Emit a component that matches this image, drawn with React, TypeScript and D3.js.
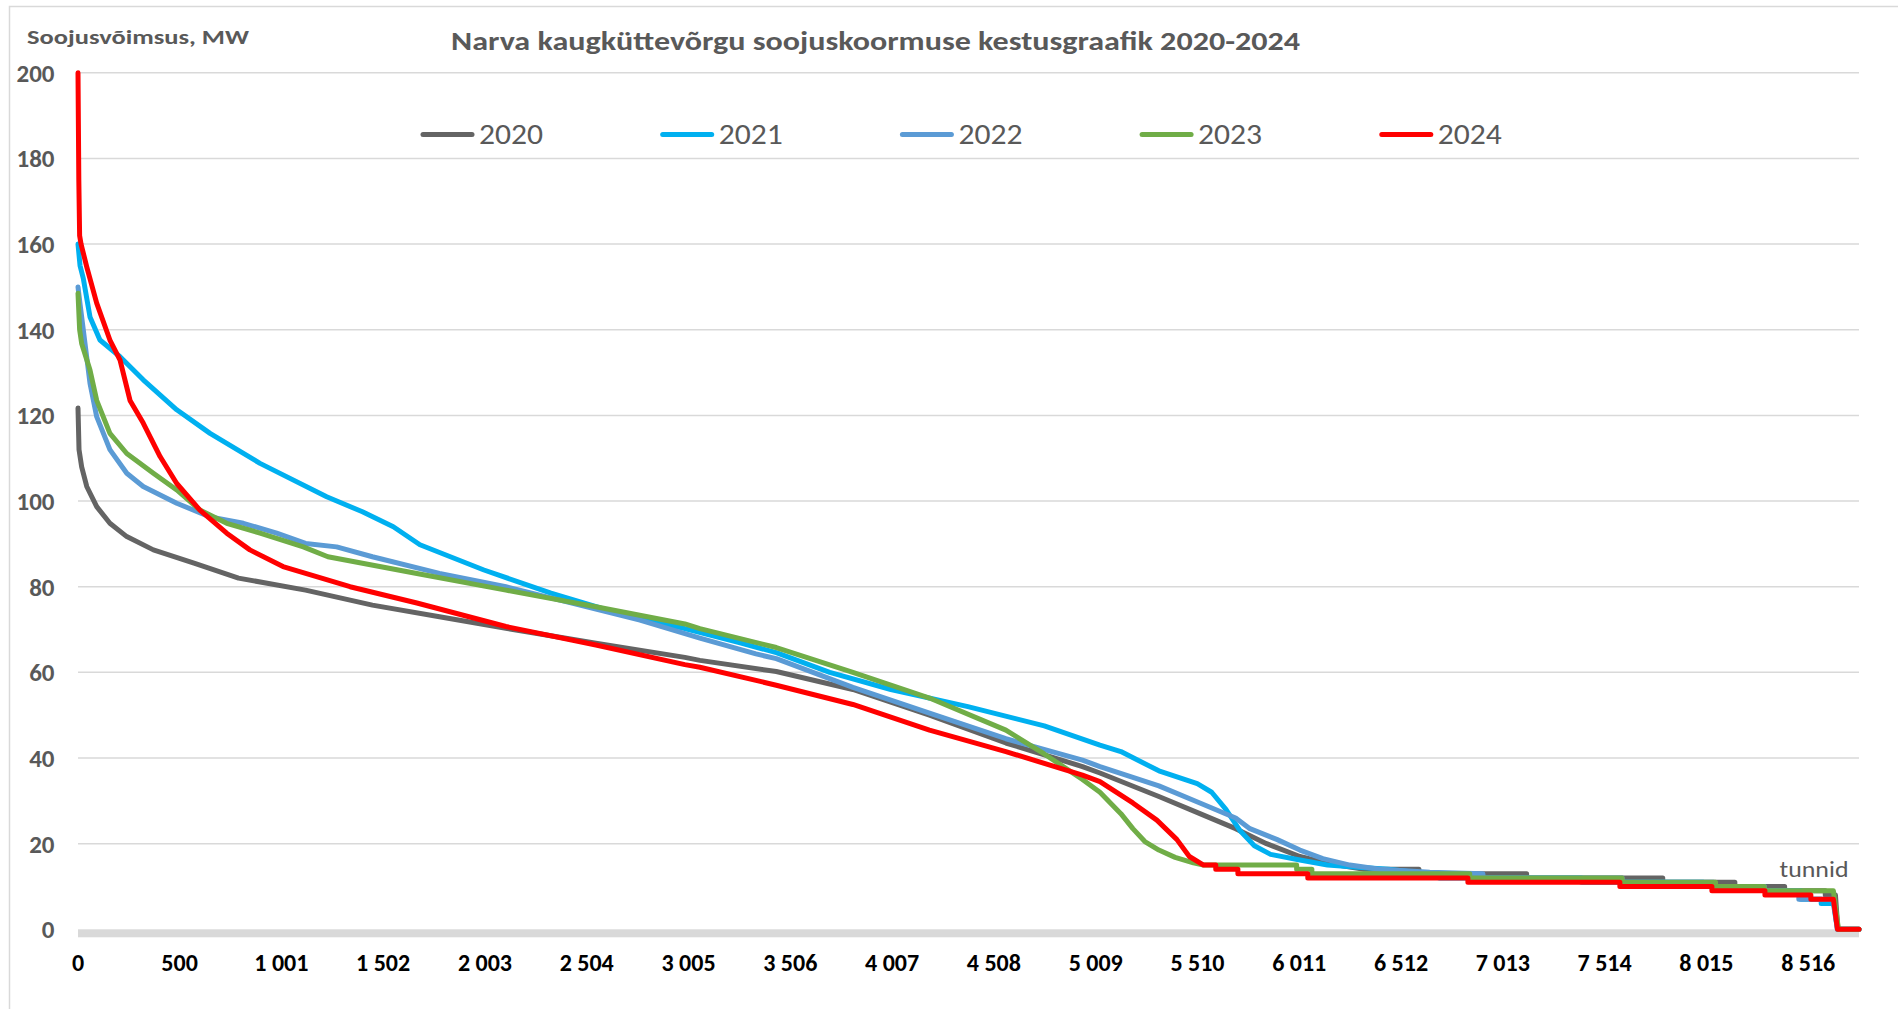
import React from 'react';
import * as d3 from 'd3';

const WIDTH = 1898;
const HEIGHT = 1009;

const years = ['2020', '2021', '2022', '2023', '2024'];
const colors = ['#646464', '#00b0f0', '#5b9bd5', '#70ad47', '#ff0000'];

const yTicks = [0, 20, 40, 60, 80, 100, 120, 140, 160, 180, 200];
const xTickValues = [0, 500, 1001, 1502, 2003, 2504, 3005, 3506, 4007, 4508, 5009, 5510, 6011, 6512, 7013, 7514, 8015, 8516];
const xTickLabels = ['0', '500', '1 001', '1 502', '2 003', '2 504', '3 005', '3 506', '4 007', '4 508', '5 009', '5 510', '6 011', '6 512', '7 013', '7 514', '8 015', '8 516'];
const HOURS_MAX = 8766;

// [hour, MW]
const load2020: [number, number][] = [
  [0, 121.7], [5, 112], [18, 108], [43, 103.4], [92, 98.7], [157, 94.8], [240, 91.7], [371, 88.6],
  [571, 85.5], [790, 82], [1120, 79.2], [1449, 75.7], [1779, 73], [2106, 70.3], [2549, 66.8],
  [2987, 63.5], [3061, 62.8], [3437, 60.2], [3814, 56], [4191, 50], [4567, 43.5], [4944, 38],
  [5030, 36.5], [5320, 31], [5522, 27], [5698, 23.5], [5850, 20], [6014, 17], [6100, 16], [6200, 15],
  [6330, 14], [6600, 14], [6600, 13], [7130, 13], [7130, 12], [7800, 12], [7800, 11], [8155, 11],
  [8155, 10], [8400, 10], [8400, 9], [8600, 9], [8600, 8], [8650, 8], [8662, 0], [8766, 0],
];

const load2021: [number, number][] = [
  [0, 160], [10, 155], [26, 152], [59, 143], [108, 137.6], [207, 133.7], [321, 128.3], [486, 121.3],
  [650, 115.8], [896, 108.8], [1224, 101], [1400, 97.5], [1552, 94], [1683, 89.8], [1998, 83.9],
  [2328, 78.5], [2657, 73.8], [2987, 70.2], [3250, 67], [3437, 64.6], [3700, 60], [4001, 56],
  [4380, 52], [4756, 47.5], [5030, 43], [5133, 41.5], [5320, 37], [5509, 34], [5580, 32],
  [5650, 28], [5720, 23], [5790, 19.5], [5870, 17.5], [6014, 16.2], [6150, 15], [6300, 14.5],
  [6450, 14], [6600, 13.2], [6700, 13], [6700, 12], [7400, 12], [7400, 11], [8000, 11], [8000, 10],
  [8300, 10], [8300, 9], [8480, 9], [8480, 7], [8580, 7], [8580, 6], [8640, 6], [8660, 0], [8766, 0],
];

const load2022: [number, number][] = [
  [0, 150], [10, 146], [26, 140], [59, 127.5], [92, 119.7], [157, 112], [240, 106.5], [321, 103.4],
  [486, 99.5], [650, 96.3], [814, 94.8], [978, 92.5], [1120, 90.1], [1273, 89.3], [1449, 87],
  [1779, 83.1], [2106, 80], [2436, 76.1], [2766, 72.2], [3061, 68], [3337, 64.3], [3437, 63.2],
  [3814, 56.5], [4191, 50.5], [4567, 44.5], [4944, 39.5], [5030, 38], [5320, 33.5], [5522, 29.5],
  [5698, 26], [5768, 23.5], [5900, 21], [6014, 18.5], [6127, 16.5], [6260, 15], [6407, 14],
  [6653, 13.3], [6915, 13], [6915, 12], [7600, 12], [7600, 11], [8050, 11], [8050, 10], [8300, 10],
  [8300, 9], [8470, 9], [8470, 7], [8640, 7], [8660, 0], [8766, 0],
];

const load2023: [number, number][] = [
  [0, 148.5], [8, 140], [18, 136.8], [59, 130.6], [92, 123.5], [157, 115.8], [240, 111.1], [371, 106.5],
  [486, 102.6], [600, 97.9], [732, 94.8], [896, 92.5], [1109, 89.3], [1230, 87], [1668, 83.1],
  [2106, 79.2], [2549, 75.3], [2987, 71.3], [3061, 70.2], [3437, 65.8], [3814, 60], [4191, 54],
  [4567, 46.5], [4754, 41], [4944, 35], [5030, 32], [5133, 27], [5192, 23.5], [5251, 20.5],
  [5320, 18.5], [5400, 16.8], [5490, 15.5], [5540, 15], [5998, 15], [5998, 14], [6073, 14], [6073, 13],
  [6850, 13], [6850, 12], [7600, 12], [7600, 11], [8060, 11], [8060, 10], [8300, 10], [8300, 9],
  [8640, 9], [8665, 0], [8766, 0],
];

const load2024: [number, number][] = [
  [0, 200], [4, 175], [8, 162], [15, 160], [43, 154.7], [92, 146.2], [157, 137.6], [207, 132.9],
  [256, 123.5], [321, 118.2], [404, 110.4], [486, 104.1], [600, 97.9], [732, 92.5], [846, 88.6],
  [1009, 84.7], [1339, 80], [1668, 76.2], [2106, 70.7], [2549, 66.4], [2987, 61.8], [3061, 61.2],
  [3437, 57], [3814, 52.5], [4191, 46.5], [4567, 41.5], [4944, 36], [5030, 34.5], [5192, 29.5],
  [5310, 25.5], [5408, 21], [5470, 17], [5540, 15], [5600, 15], [5600, 14], [5709, 14], [5709, 13],
  [6053, 13], [6053, 12], [6841, 12], [6841, 11], [7589, 11], [7589, 10], [8042, 10], [8042, 9],
  [8303, 9], [8303, 8], [8529, 8], [8529, 7], [8640, 7], [8660, 0], [8766, 0],
];

const loads = [load2020, load2021, load2022, load2023, load2024];

const FONT = 'Carlito, Calibri, Lato, sans-serif';
const TEXT_GRAY = '#595959';
const GRID = '#d9d9d9';

export default function App() {
  const plot = { left: 78, right: 1859, top: 72.8, bottom: 929.3 };
  const x = d3.scaleLinear().domain([0, HOURS_MAX]).range([plot.left, plot.right]);
  const y = d3.scaleLinear().domain([0, 200]).range([plot.bottom, plot.top]);

  const line = d3.line<[number, number]>()
    .x((d) => x(d[0]))
    .y((d) => y(d[1]));

  const legendX = d3.scaleLinear().domain([0, 1]).range([421, 660.7]);

  return (
    <svg
      width={WIDTH}
      height={HEIGHT}
      style={{ position: 'absolute', left: 0, top: 0, background: '#fff' }}
      fontFamily={FONT}
    >
      <rect x={0} y={0} width={WIDTH} height={HEIGHT} fill="#fff" />
      <rect x={9.5} y={6.5} width={WIDTH + 20} height={HEIGHT + 20} fill="none" stroke={GRID} strokeWidth={1.5} />

      {yTicks.filter((t) => t > 0).map((t) => (
        <line key={t} x1={plot.left} x2={plot.right} y1={y(t)} y2={y(t)} stroke={GRID} strokeWidth={1.5} />
      ))}
      <rect x={plot.left} y={y(0)} width={plot.right - plot.left} height={8} fill={GRID} />

      {yTicks.map((t) => (
        <text key={t} x={54.5} y={y(t)} dy="0.36em" textAnchor="end" fontSize={25} fontWeight={700} fill={TEXT_GRAY}>
          {t}
        </text>
      ))}

      {xTickValues.map((v, i) => (
        <text key={v} x={x(v)} y={962} dy="0.36em" textAnchor="middle" fontSize={24} fontWeight={700} fill="#000">
          {xTickLabels[i]}
        </text>
      ))}

      {loads.map((data, i) => (
        <path
          key={years[i]}
          d={line(data) || ''}
          fill="none"
          stroke={colors[i]}
          strokeWidth={5}
          strokeLinejoin="round"
          strokeLinecap="round"
        />
      ))}

      <text x={875.5} y={41} dy="0.36em" textAnchor="middle" fontSize={26} fontWeight={700} fill={TEXT_GRAY}
        textLength={849} lengthAdjust="spacingAndGlyphs">
        Narva kaugküttevõrgu soojuskoormuse kestusgraafik 2020-2024
      </text>
      <text x={27} y={36} dy="0.36em" fontSize={21} fontWeight={700} fill={TEXT_GRAY}
        textLength={222} lengthAdjust="spacingAndGlyphs">
        Soojusvõimsus, MW
      </text>

      {years.map((yr, i) => {
        const lx = legendX(i);
        return (
          <g key={yr}>
            <line x1={lx + 2} x2={lx + 51} y1={134.4} y2={134.4} stroke={colors[i]} strokeWidth={5} strokeLinecap="round" />
            <text x={lx + 58} y={134.4} dy="0.36em" fontSize={28} fill={TEXT_GRAY} textLength={64} lengthAdjust="spacingAndGlyphs">
              {yr}
            </text>
          </g>
        );
      })}

      <text x={1779.5} y={869} dy="0.36em" fontSize={23} fill={TEXT_GRAY} textLength={69} lengthAdjust="spacingAndGlyphs">
        tunnid
      </text>
    </svg>
  );
}
